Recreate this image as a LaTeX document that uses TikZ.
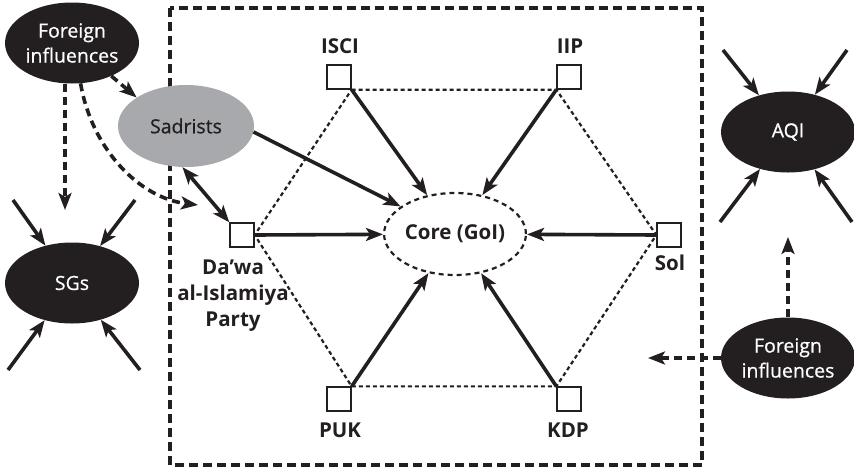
\documentclass[tikz,border=0pt]{standalone}
\usepackage{fontspec}
\setmainfont{Open Sans}
\newfontfamily\regfont[FakeBold=0.7]{Open Sans}
\usetikzlibrary{arrows.meta,shapes.geometric}
\definecolor{ink}{HTML}{231F20}
\definecolor{sadgray}{HTML}{A7A9AC}
\begin{document}
\begin{tikzpicture}[x=1pt,y=-1pt,
  sq/.style={draw=ink,line width=1.3pt,minimum size=24pt,inner sep=0pt,fill=white},
  lab/.style={text=ink,font=\fontsize{20.5}{26}\selectfont\bfseries,align=center,inner sep=0pt},
  blk/.style={ellipse,fill=ink,text=white,minimum width=134pt,minimum height=81pt,inner sep=0pt,
    font=\regfont\fontsize{19.5}{25}\selectfont,align=center},
  grayell/.style={ellipse,fill=sadgray,text=ink,minimum width=136pt,minimum height=82pt,inner sep=0pt,
    font=\regfont\fontsize{19.5}{25}\selectfont},
  coreell/.style={ellipse,draw=ink,line width=2.2pt,dash pattern=on 5pt off 4pt,minimum width=136pt,
    minimum height=82pt,inner sep=0pt,text=ink,font=\fontsize{20.5}{25}\selectfont\bfseries},
  tip/.style={-{Stealth[length=17pt,width=13pt,inset=4pt]}},
  sol/.style={draw=ink,line width=3.6pt,tip},
  dsh/.style={draw=ink,line width=3.6pt,dash pattern=on 8pt off 5pt,tip},
  hex/.style={draw=ink,line width=2.2pt,dash pattern=on 4pt off 3pt},
  frame/.style={draw=ink,line width=3.8pt,dash pattern=on 9pt off 5pt}
]
\useasboundingbox (0,0) rectangle (854,469);

% outer frame
\draw[frame] (170,8) rectangle (702,465);

% squares
\node[sq] (ISCI) at (339,77) {};
\node[sq] (IIP) at (569,77) {};
\node[sq] (Sol) at (669,235) {};
\node[sq] (KDP) at (569,399) {};
\node[sq] (PUK) at (339,399) {};
\node[sq] (Dawa) at (242,235) {};

% labels
\node[lab] (ISCIl) at (340,46) {ISCI};
\node[lab] (IIPl) at (570,46) {IIP};
\node[lab] (Soll) at (670,263) {Sol};
\node[lab] (KDPl) at (568,430) {KDP};
\node[lab] (PUKl) at (340,430) {PUK};
\node[lab] (Dawal) at (233,296) {Da’wa\\al-Islamiya\\Party};

% core
\node[coreell] (core) at (455,234) {Core (GoI)};

% hexagon
\draw[hex] (ISCI.south east) -- (IIP.south west) -- (Sol.west) -- (KDP.north west)
  -- (PUK.north east) -- (Dawa.east) -- cycle;

% ellipses
\node[blk] (fiA) at (72,43) {Foreign\\influences};
\node[grayell] (Sad) at (186,126) {Sadrists};
\node[blk] (SGs) at (72,283) {SGs};
\node[blk] (AQI) at (788,132) {AQI};
\node[blk] (fiB) at (788,358) {Foreign\\influences};

% arrows to core
\draw[sol] (ISCI.south east) -- (core);
\draw[sol] (IIP.south west) -- (core);
\draw[sol] (Sol.west) -- (core);
\draw[sol] (KDP.north west) -- (core);
\draw[sol] (PUK.north east) -- (core);
\draw[sol] (Dawa.east) -- (core);
\draw[sol] (Sad.-5) -- (core);
\draw[draw=ink,line width=3.6pt,{Stealth[length=17pt,width=13pt,inset=4pt]}-{Stealth[length=17pt,width=13pt,inset=4pt]}]
  (Sad.-95) -- (Dawa.north west);

% dashed influence arrows (top-left)
\coordinate (a1) at (65,210);
\coordinate (a2) at (198,205);
\draw[dsh] (fiA.south -| a1) -- (a1);
\draw[dsh] (fiA.-78) .. controls (92,150) and (140,198) .. (a2);
\draw[dsh] (fiA.-40) -- (Sad.150);

% dashed influence arrows (bottom-right)
\coordinate (b1) at (788,237);
\coordinate (b2) at (648,358);
\draw[dsh] (fiB.north) -- (b1);
\draw[dsh] (fiB.west) -- (b2);

% arrows into SGs
\coordinate (s1) at (13,200);
\coordinate (s2) at (135,200);
\coordinate (s3) at (8,370);
\coordinate (s4) at (140,370);
\draw[sol] (s1) -- (SGs);
\draw[sol] (s2) -- (SGs);
\draw[sol] (s3) -- (SGs);
\draw[sol] (s4) -- (SGs);

% arrows into AQI
\coordinate (q1) at (723,50);
\coordinate (q2) at (847,50);
\coordinate (q3) at (720,222);
\coordinate (q4) at (852,222);
\draw[sol] (q1) -- (AQI);
\draw[sol] (q2) -- (AQI);
\draw[sol] (q3) -- (AQI);
\draw[sol] (q4) -- (AQI);
\end{tikzpicture}
\end{document}
